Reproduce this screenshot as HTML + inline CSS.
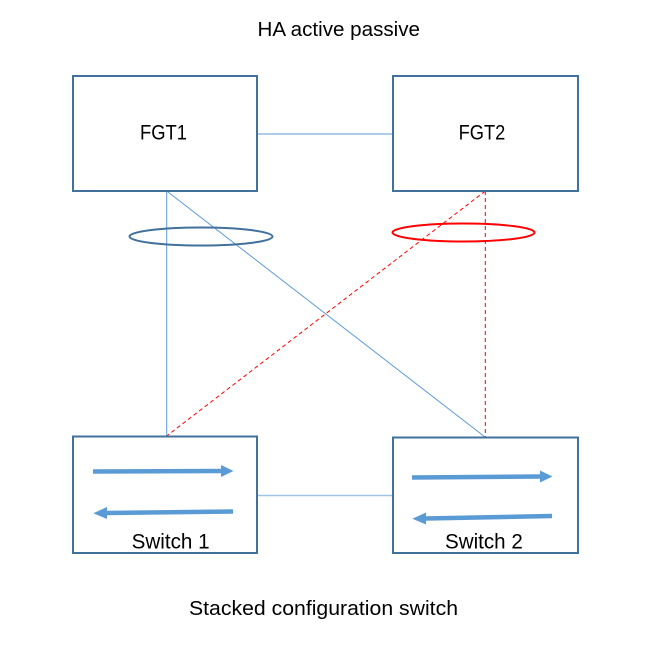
<!DOCTYPE html>
<html>
<head>
<meta charset="utf-8">
<style>
  html, body { margin:0; padding:0; background:#fff; }
  svg { display:block; }
  text { font-family: "Liberation Sans", sans-serif; fill:#000; }
</style>
</head>
<body>
<svg width="652" height="654" viewBox="0 0 652 654" xmlns="http://www.w3.org/2000/svg">
  <rect x="0" y="0" width="652" height="654" fill="#fff"/>

  <!-- Titles -->
  <text x="257.5" y="36" font-size="20" textLength="162.5" lengthAdjust="spacingAndGlyphs">HA active passive</text>
  <text x="189" y="615" font-size="20" textLength="269" lengthAdjust="spacingAndGlyphs">Stacked configuration switch</text>

  <!-- Connectors -->
  <line x1="257" y1="134" x2="393" y2="134" stroke="#5B9BD5" stroke-width="1"/>
  <line x1="166.7" y1="191" x2="166.7" y2="436" stroke="#5B9BD5" stroke-width="1"/>
  <line x1="166.7" y1="191" x2="485" y2="437" stroke="#5B9BD5" stroke-width="1"/>
  <line x1="485.3" y1="191" x2="485.3" y2="437" stroke="#FF0000" stroke-width="1" stroke-dasharray="4,3"/>
  <line x1="485.3" y1="191" x2="166.7" y2="436" stroke="#FF0000" stroke-width="1" stroke-dasharray="4,3"/>
  <line x1="258" y1="495.5" x2="393" y2="495.5" stroke="#9DC3E6" stroke-width="1.5"/>

  <!-- Ellipses -->
  <ellipse cx="201" cy="236.5" rx="71.5" ry="9" fill="none" stroke="#41719C" stroke-width="2"/>
  <ellipse cx="463.5" cy="232.5" rx="71" ry="9" fill="none" stroke="#FF0000" stroke-width="2"/>

  <!-- FGT boxes -->
  <rect x="73" y="76" width="184" height="115" fill="none" stroke="#41719C" stroke-width="2"/>
  <rect x="393" y="76" width="185" height="115" fill="none" stroke="#41719C" stroke-width="2"/>
  <text x="140" y="139.5" font-size="21" textLength="47" lengthAdjust="spacingAndGlyphs">FGT1</text>
  <text x="458.6" y="139.5" font-size="21" textLength="46.7" lengthAdjust="spacingAndGlyphs">FGT2</text>

  <!-- Switch boxes -->
  <rect x="73" y="436.5" width="184" height="116.5" fill="#fff" stroke="#41719C" stroke-width="2"/>
  <rect x="393" y="437.5" width="185" height="115.5" fill="#fff" stroke="#41719C" stroke-width="2"/>
  <text x="131.6" y="548.4" font-size="21" textLength="78" lengthAdjust="spacingAndGlyphs">Switch 1</text>
  <text x="445" y="548.4" font-size="21" textLength="77.8" lengthAdjust="spacingAndGlyphs">Switch 2</text>

  <!-- Arrows Switch 1 -->
  <line x1="93" y1="471.5" x2="222" y2="471" stroke="#5B9BD5" stroke-width="4.5"/>
  <polygon points="221,465 233.5,471 221,477" fill="#5B9BD5"/>
  <line x1="233" y1="511.5" x2="106" y2="513" stroke="#5B9BD5" stroke-width="4.5"/>
  <polygon points="107,507 93.3,513.3 107,519" fill="#5B9BD5"/>

  <!-- Arrows Switch 2 -->
  <line x1="412" y1="477.5" x2="541" y2="476.5" stroke="#5B9BD5" stroke-width="4.5"/>
  <polygon points="540,470.5 552.5,476.5 540,482.5" fill="#5B9BD5"/>
  <line x1="552" y1="516" x2="425" y2="518.5" stroke="#5B9BD5" stroke-width="4.5"/>
  <polygon points="426,512.5 412.3,518.7 426,524.5" fill="#5B9BD5"/>
</svg>
</body>
</html>
